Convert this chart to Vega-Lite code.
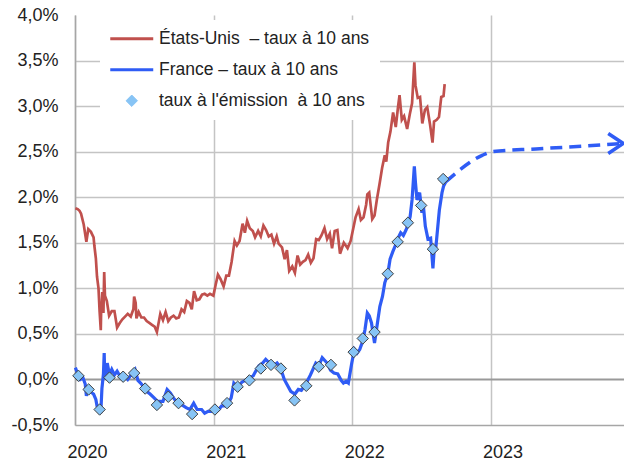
{
"$schema": "https://vega.github.io/schema/vega-lite/v6.json",
"width": 549, "height": 410,
"autosize": {"type": "none"},
"padding": {"left": 75, "top": 15, "right": 0, "bottom": 39},
"background": "white",
"config": {"view": {"stroke": null}, "font": "Liberation Sans"},
"datasets": {
"us": [
{"date":"2020-01-02","taux":1.88},{"date":"2020-01-08","taux":1.87},{"date":"2020-01-13","taux":1.85},{"date":"2020-01-17","taux":1.82},{"date":"2020-01-24","taux":1.70},{"date":"2020-01-31","taux":1.51},{"date":"2020-02-05","taux":1.65},{"date":"2020-02-12","taux":1.62},{"date":"2020-02-19","taux":1.56},{"date":"2020-02-21","taux":1.47},{"date":"2020-02-25","taux":1.33},{"date":"2020-02-28","taux":1.13},{"date":"2020-03-03","taux":1.00},{"date":"2020-03-06","taux":0.74},{"date":"2020-03-09","taux":0.54},{"date":"2020-03-10","taux":0.76},{"date":"2020-03-12","taux":0.86},{"date":"2020-03-13","taux":0.96},{"date":"2020-03-16","taux":0.73},{"date":"2020-03-18","taux":1.18},{"date":"2020-03-20","taux":0.92},{"date":"2020-03-25","taux":0.86},{"date":"2020-03-31","taux":0.70},{"date":"2020-04-07","taux":0.75},{"date":"2020-04-14","taux":0.75},{"date":"2020-04-21","taux":0.57},{"date":"2020-04-28","taux":0.62},{"date":"2020-05-05","taux":0.66},{"date":"2020-05-12","taux":0.69},{"date":"2020-05-19","taux":0.72},{"date":"2020-05-27","taux":0.69},{"date":"2020-06-03","taux":0.77},{"date":"2020-06-05","taux":0.91},{"date":"2020-06-09","taux":0.84},{"date":"2020-06-11","taux":0.67},{"date":"2020-06-17","taux":0.74},{"date":"2020-06-24","taux":0.68},{"date":"2020-07-01","taux":0.68},{"date":"2020-07-08","taux":0.64},{"date":"2020-07-15","taux":0.62},{"date":"2020-07-22","taux":0.60},{"date":"2020-07-29","taux":0.58},{"date":"2020-08-04","taux":0.52},{"date":"2020-08-13","taux":0.72},{"date":"2020-08-20","taux":0.65},{"date":"2020-08-27","taux":0.74},{"date":"2020-09-03","taux":0.64},{"date":"2020-09-10","taux":0.68},{"date":"2020-09-17","taux":0.70},{"date":"2020-09-24","taux":0.67},{"date":"2020-10-01","taux":0.68},{"date":"2020-10-08","taux":0.77},{"date":"2020-10-15","taux":0.74},{"date":"2020-10-22","taux":0.86},{"date":"2020-10-29","taux":0.84},{"date":"2020-11-04","taux":0.77},{"date":"2020-11-10","taux":0.97},{"date":"2020-11-17","taux":0.87},{"date":"2020-11-24","taux":0.88},{"date":"2020-12-01","taux":0.93},{"date":"2020-12-08","taux":0.94},{"date":"2020-12-15","taux":0.92},{"date":"2020-12-22","taux":0.94},{"date":"2020-12-31","taux":0.92},
{"date":"2021-01-06","taux":1.04},{"date":"2021-01-12","taux":1.15},{"date":"2021-01-19","taux":1.10},{"date":"2021-01-27","taux":1.02},{"date":"2021-02-03","taux":1.14},{"date":"2021-02-10","taux":1.14},{"date":"2021-02-17","taux":1.29},{"date":"2021-02-25","taux":1.52},{"date":"2021-03-03","taux":1.47},{"date":"2021-03-10","taux":1.52},{"date":"2021-03-18","taux":1.71},{"date":"2021-03-24","taux":1.61},{"date":"2021-03-30","taux":1.74},{"date":"2021-04-06","taux":1.66},{"date":"2021-04-14","taux":1.63},{"date":"2021-04-20","taux":1.56},{"date":"2021-04-28","taux":1.63},{"date":"2021-05-05","taux":1.57},{"date":"2021-05-12","taux":1.69},{"date":"2021-05-19","taux":1.64},{"date":"2021-05-26","taux":1.57},{"date":"2021-06-02","taux":1.59},{"date":"2021-06-09","taux":1.49},{"date":"2021-06-16","taux":1.57},{"date":"2021-06-21","taux":1.49},{"date":"2021-06-30","taux":1.45},{"date":"2021-07-07","taux":1.32},{"date":"2021-07-13","taux":1.42},{"date":"2021-07-19","taux":1.19},{"date":"2021-07-27","taux":1.24},{"date":"2021-08-03","taux":1.17},{"date":"2021-08-10","taux":1.36},{"date":"2021-08-17","taux":1.26},{"date":"2021-08-24","taux":1.29},{"date":"2021-08-31","taux":1.31},{"date":"2021-09-07","taux":1.37},{"date":"2021-09-14","taux":1.28},{"date":"2021-09-21","taux":1.33},{"date":"2021-09-28","taux":1.54},{"date":"2021-10-05","taux":1.53},{"date":"2021-10-12","taux":1.58},{"date":"2021-10-20","taux":1.66},{"date":"2021-10-27","taux":1.54},{"date":"2021-11-03","taux":1.60},{"date":"2021-11-09","taux":1.44},{"date":"2021-11-16","taux":1.63},{"date":"2021-11-23","taux":1.64},{"date":"2021-11-30","taux":1.38},{"date":"2021-12-10","taux":1.50},{"date":"2021-12-20","taux":1.44},{"date":"2021-12-28","taux":1.52},
{"date":"2022-01-04","taux":1.66},{"date":"2022-01-10","taux":1.78},{"date":"2022-01-18","taux":1.87},{"date":"2022-01-24","taux":1.75},{"date":"2022-01-31","taux":1.78},{"date":"2022-02-07","taux":1.92},{"date":"2022-02-10","taux":2.03},{"date":"2022-02-15","taux":2.05},{"date":"2022-02-23","taux":1.76},{"date":"2022-03-01","taux":1.80},{"date":"2022-03-07","taux":1.97},{"date":"2022-03-14","taux":2.14},{"date":"2022-03-21","taux":2.32},{"date":"2022-03-28","taux":2.46},{"date":"2022-04-01","taux":2.39},{"date":"2022-04-06","taux":2.60},{"date":"2022-04-12","taux":2.72},{"date":"2022-04-19","taux":2.93},{"date":"2022-04-26","taux":2.77},{"date":"2022-05-02","taux":2.99},{"date":"2022-05-06","taux":3.12},{"date":"2022-05-12","taux":2.85},{"date":"2022-05-18","taux":2.89},{"date":"2022-05-26","taux":2.75},{"date":"2022-06-02","taux":2.91},{"date":"2022-06-08","taux":3.03},{"date":"2022-06-14","taux":3.48},{"date":"2022-06-17","taux":3.23},{"date":"2022-06-23","taux":3.09},{"date":"2022-06-29","taux":3.10},{"date":"2022-07-05","taux":2.81},{"date":"2022-07-12","taux":2.96},{"date":"2022-07-18","taux":2.99},{"date":"2022-07-25","taux":2.81},{"date":"2022-08-01","taux":2.60},{"date":"2022-08-05","taux":2.83},{"date":"2022-08-12","taux":2.85},{"date":"2022-08-18","taux":2.88},{"date":"2022-08-24","taux":3.10},{"date":"2022-08-30","taux":3.11},{"date":"2022-09-02","taux":3.24}
],
"fr": [
{"date":"2020-01-02","taux":0.13},{"date":"2020-01-08","taux":0.06},{"date":"2020-01-15","taux":0.00},{"date":"2020-01-22","taux":0.02},{"date":"2020-01-28","taux":-0.05},{"date":"2020-01-31","taux":-0.18},{"date":"2020-02-06","taux":-0.10},{"date":"2020-02-12","taux":-0.14},{"date":"2020-02-19","taux":-0.16},{"date":"2020-02-25","taux":-0.22},{"date":"2020-02-28","taux":-0.29},{"date":"2020-03-04","taux":-0.30},{"date":"2020-03-09","taux":-0.37},{"date":"2020-03-12","taux":-0.10},{"date":"2020-03-16","taux":0.06},{"date":"2020-03-18","taux":0.29},{"date":"2020-03-19","taux":0.12},{"date":"2020-03-23","taux":0.00},{"date":"2020-03-26","taux":0.18},{"date":"2020-04-01","taux":0.05},{"date":"2020-04-07","taux":0.11},{"date":"2020-04-14","taux":0.05},{"date":"2020-04-21","taux":0.09},{"date":"2020-04-28","taux":0.04},{"date":"2020-05-05","taux":0.06},{"date":"2020-05-12","taux":0.03},{"date":"2020-05-19","taux":0.00},{"date":"2020-05-26","taux":0.04},{"date":"2020-06-02","taux":0.05},{"date":"2020-06-08","taux":0.10},{"date":"2020-06-15","taux":-0.01},{"date":"2020-06-22","taux":-0.04},{"date":"2020-06-30","taux":-0.08},{"date":"2020-07-08","taux":-0.13},{"date":"2020-07-17","taux":-0.16},{"date":"2020-07-27","taux":-0.20},{"date":"2020-08-06","taux":-0.24},{"date":"2020-08-20","taux":-0.24},{"date":"2020-08-31","taux":-0.11},{"date":"2020-09-09","taux":-0.15},{"date":"2020-09-16","taux":-0.20},{"date":"2020-09-28","taux":-0.26},{"date":"2020-10-09","taux":-0.28},{"date":"2020-10-20","taux":-0.31},{"date":"2020-10-30","taux":-0.33},{"date":"2020-11-09","taux":-0.26},{"date":"2020-11-18","taux":-0.33},{"date":"2020-11-30","taux":-0.33},{"date":"2020-12-08","taux":-0.37},{"date":"2020-12-17","taux":-0.35},{"date":"2020-12-28","taux":-0.35},
{"date":"2021-01-07","taux":-0.35},{"date":"2021-01-14","taux":-0.33},{"date":"2021-01-22","taux":-0.29},{"date":"2021-02-01","taux":-0.29},{"date":"2021-02-10","taux":-0.25},{"date":"2021-02-16","taux":-0.20},{"date":"2021-02-23","taux":-0.04},{"date":"2021-03-02","taux":-0.07},{"date":"2021-03-09","taux":-0.07},{"date":"2021-03-16","taux":-0.03},{"date":"2021-03-25","taux":-0.01},{"date":"2021-04-06","taux":0.02},{"date":"2021-04-15","taux":0.04},{"date":"2021-04-23","taux":0.10},{"date":"2021-04-30","taux":0.15},{"date":"2021-05-10","taux":0.18},{"date":"2021-05-18","taux":0.22},{"date":"2021-05-28","taux":0.18},{"date":"2021-06-07","taux":0.15},{"date":"2021-06-17","taux":0.18},{"date":"2021-06-25","taux":0.14},{"date":"2021-07-06","taux":0.00},{"date":"2021-07-15","taux":-0.07},{"date":"2021-07-23","taux":-0.13},{"date":"2021-08-03","taux":-0.16},{"date":"2021-08-12","taux":-0.11},{"date":"2021-08-20","taux":-0.12},{"date":"2021-09-02","taux":-0.04},{"date":"2021-09-13","taux":0.05},{"date":"2021-09-27","taux":0.18},{"date":"2021-10-05","taux":0.15},{"date":"2021-10-14","taux":0.24},{"date":"2021-10-27","taux":0.18},{"date":"2021-11-05","taux":0.10},{"date":"2021-11-14","taux":0.07},{"date":"2021-11-24","taux":0.06},{"date":"2021-12-03","taux":-0.01},{"date":"2021-12-09","taux":-0.04},{"date":"2021-12-16","taux":-0.02},{"date":"2021-12-22","taux":-0.04},{"date":"2021-12-31","taux":0.18},
{"date":"2022-01-07","taux":0.33},{"date":"2022-01-14","taux":0.29},{"date":"2022-01-21","taux":0.33},{"date":"2022-01-29","taux":0.42},{"date":"2022-02-04","taux":0.55},{"date":"2022-02-10","taux":0.73},{"date":"2022-02-15","taux":0.70},{"date":"2022-02-21","taux":0.62},{"date":"2022-03-01","taux":0.40},{"date":"2022-03-08","taux":0.60},{"date":"2022-03-15","taux":0.80},{"date":"2022-03-22","taux":0.91},{"date":"2022-03-28","taux":1.06},{"date":"2022-04-05","taux":1.16},{"date":"2022-04-11","taux":1.32},{"date":"2022-04-18","taux":1.40},{"date":"2022-04-24","taux":1.46},{"date":"2022-05-02","taux":1.55},{"date":"2022-05-09","taux":1.61},{"date":"2022-05-16","taux":1.58},{"date":"2022-05-23","taux":1.64},{"date":"2022-05-30","taux":1.72},{"date":"2022-06-03","taux":1.79},{"date":"2022-06-08","taux":1.97},{"date":"2022-06-14","taux":2.34},{"date":"2022-06-17","taux":2.16},{"date":"2022-06-21","taux":1.97},{"date":"2022-06-28","taux":2.05},{"date":"2022-07-04","taux":1.83},{"date":"2022-07-08","taux":1.90},{"date":"2022-07-13","taux":1.68},{"date":"2022-07-20","taux":1.54},{"date":"2022-07-27","taux":1.55},{"date":"2022-08-02","taux":1.22},{"date":"2022-08-05","taux":1.40},{"date":"2022-08-10","taux":1.46},{"date":"2022-08-19","taux":1.86},{"date":"2022-08-26","taux":2.05},{"date":"2022-08-30","taux":2.12},{"date":"2022-09-05","taux":2.17}
],
"emis": [
{"date":"2020-01-10","taux":0.04},{"date":"2020-02-06","taux":-0.11},{"date":"2020-03-06","taux":-0.33},{"date":"2020-04-01","taux":0.02},{"date":"2020-05-07","taux":0.03},{"date":"2020-06-05","taux":0.07},{"date":"2020-07-04","taux":-0.10},{"date":"2020-08-04","taux":-0.28},{"date":"2020-09-03","taux":-0.19},{"date":"2020-09-30","taux":-0.26},{"date":"2020-11-05","taux":-0.38},{"date":"2021-01-04","taux":-0.33},{"date":"2021-02-05","taux":-0.26},{"date":"2021-03-05","taux":-0.08},{"date":"2021-04-05","taux":-0.01},{"date":"2021-05-05","taux":0.12},{"date":"2021-06-01","taux":0.16},{"date":"2021-06-27","taux":0.12},{"date":"2021-08-02","taux":-0.23},{"date":"2021-09-02","taux":-0.07},{"date":"2021-10-05","taux":0.14},{"date":"2021-11-06","taux":0.16},{"date":"2022-01-05","taux":0.30},{"date":"2022-01-29","taux":0.45},{"date":"2022-03-01","taux":0.52},{"date":"2022-04-05","taux":1.16},{"date":"2022-05-01","taux":1.51},{"date":"2022-05-28","taux":1.72},{"date":"2022-07-02","taux":1.91},{"date":"2022-08-02","taux":1.43},{"date":"2022-08-29","taux":2.20}
],
"proj": [
{"date":"2022-09-05","taux":2.17},{"date":"2022-12-10","taux":2.46},{"date":"2023-01-05","taux":2.50},{"date":"2023-05-01","taux":2.53},{"date":"2023-09-01","taux":2.56},{"date":"2023-12-17","taux":2.59}
],
"tip": [{"date":"2023-12-17","taux":2.59}]
},
"encoding": {
"x": {"field": "date", "type": "temporal",
  "scale": {"type": "utc", "domain": ["2020-01-01", "2023-12-19"]},
  "axis": {"title": null, "format": "%Y", "tickCount": "year", "ticks": false, "tickSize": 0,
    "grid": true, "gridColor": "#c4c4c4", "gridWidth": 1.5,
    "domainColor": "#a6a6a6", "domainWidth": 1.5,
    "labelFontSize": 18, "labelFont": "Liberation Sans", "labelColor": "#222222",
    "labelPadding": 18, "labelOffset": 12, "labelAlign": "center", "labelFlush": false}},
"y": {"field": "taux", "type": "quantitative",
  "scale": {"domain": [-0.5, 4], "nice": false, "zero": false},
  "axis": {"title": null, "values": [-0.5, 0, 0.5, 1, 1.5, 2, 2.5, 3, 3.5, 4],
    "labelExpr": "(datum.value < 0 ? '-' : '') + replace(format(abs(datum.value), '.1f'), '.', ',') + '%'",
    "ticks": false, "tickSize": 0,
    "grid": true,
    "gridColor": {"condition": {"test": "datum.value === 0", "value": "#999999"}, "value": "#c4c4c4"},
    "gridOpacity": {"condition": {"test": "datum.value >= 4 || datum.value <= -0.5", "value": 0}, "value": 1},
    "gridWidth": {"condition": {"test": "datum.value === 0", "value": 2}, "value": 1.5},
    "domainColor": "#a6a6a6", "domainWidth": 1.5,
    "labelFontSize": 18, "labelFont": "Liberation Sans", "labelColor": "#222222", "labelPadding": 17}}
},
"layer": [
{"data": {"name": "us"},
 "mark": {"type": "line", "strokeWidth": 2.7, "interpolate": "linear"},
 "encoding": {"color": {"datum": "États-Unis\u00a0 – taux à 10 ans",
   "scale": {"domain": ["États-Unis\u00a0 – taux à 10 ans", "France – taux à 10 ans", "taux à l'émission\u00a0 à 10 ans"], "range": ["#c0504d", "#2f5cf5", "#87c4f5"]},
   "legend": {"orient": "none", "legendX": 25, "legendY": 5, "title": null, "fillColor": "white", "padding": 10,
     "symbolType": "diamond", "symbolSize": 130, "symbolStrokeWidth": 1, "symbolStrokeColor": "#404040", "symbolOffset": 13,
     "labelFontSize": 17.5, "labelFont": "Liberation Sans", "labelColor": "#222222", "labelOffset": 18.5, "labelLimit": 0,
     "rowPadding": 12, "direction": "vertical",
     "encode": {"symbols": {"update": {
       "shape": {"signal": "datum.index === 2 ? 'diamond' : 'M -3.77 0 L 3.77 0'"},
       "stroke": {"signal": "datum.index === 0 ? '#c0504d' : datum.index === 1 ? '#2f5cf5' : '#404040'"},
       "fill": {"signal": "datum.index === 2 ? '#87c4f5' : 'transparent'"},
       "strokeWidth": {"signal": "datum.index === 2 ? 1 : 3"},
       "opacity": {"value": 1}}}}}}}},
{"data": {"name": "fr"},
 "mark": {"type": "line", "strokeWidth": 3.2},
 "encoding": {"color": {"datum": "France – taux à 10 ans"}}},
{"data": {"name": "proj"},
 "mark": {"type": "line", "strokeWidth": 3.5, "strokeDash": [12, 7], "color": "#2f5cf5", "interpolate": "monotone"},
 "encoding": {}},
{"data": {"name": "tip"},
 "mark": {"type": "point", "shape": "M -1.5 -1 L 0 0 L -1.5 1", "filled": false, "size": 400, "strokeWidth": 3.5, "color": "#2f5cf5", "opacity": 1},
 "encoding": {}},
{"data": {"name": "emis"},
 "mark": {"type": "point", "shape": "diamond", "filled": true, "size": 130, "stroke": "#404040", "strokeWidth": 1, "opacity": 1},
 "encoding": {"color": {"datum": "taux à l'émission\u00a0 à 10 ans"}}}
]
}
